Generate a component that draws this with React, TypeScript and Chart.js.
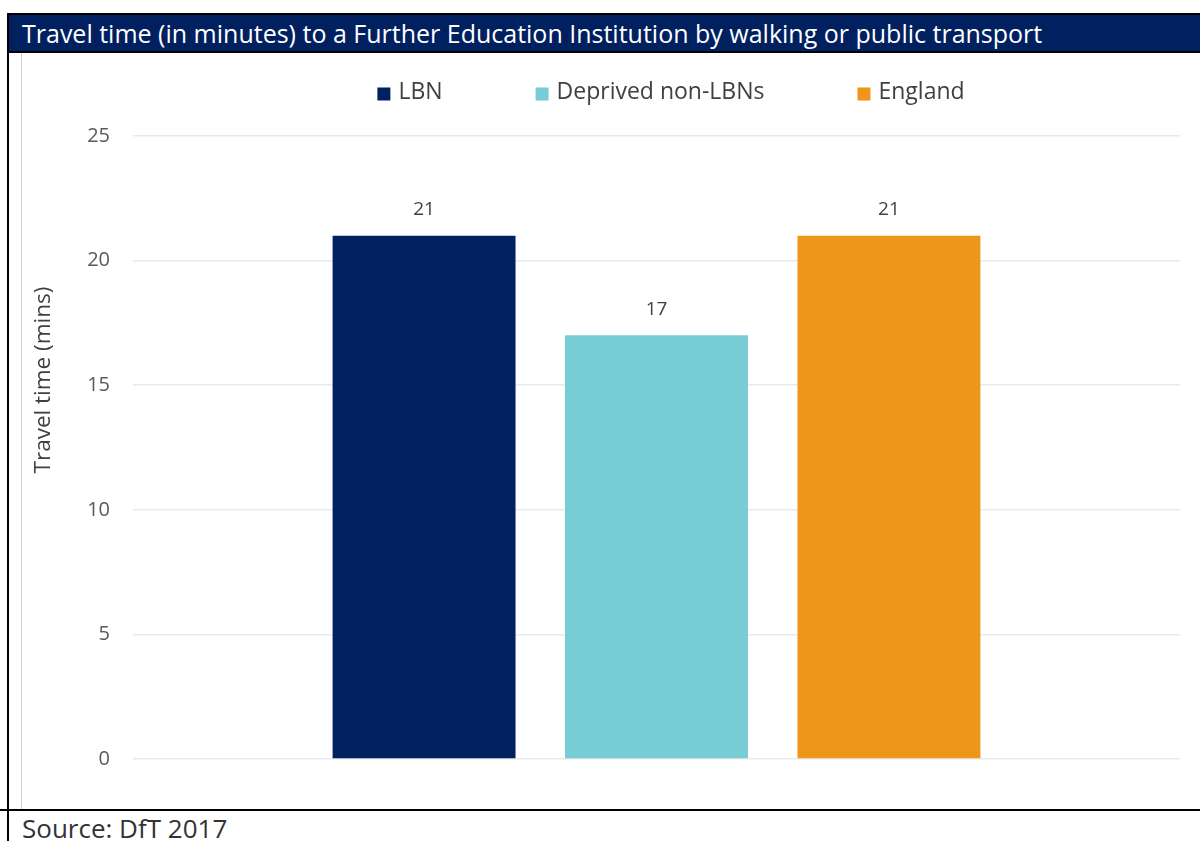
import React, { useEffect, useRef } from "react";
import { Chart, registerables } from "chart.js";

Chart.register(...registerables);

const categories = ["Travel time"];
const seriesLabels = ["LBN", "Deprived non-LBNs", "England"];
const lbnValues = [21];
const deprivedValues = [17];
const englandValues = [21];
const seriesColors = ["#002060", "#77CCD5", "#EE961A"];
const yTickValues = [0, 5, 10, 15, 20, 25];

const titleText =
  "Travel time (in minutes) to a Further Education Institution by walking or public transport";
const yAxisTitle = "Travel time (mins)";
const sourceText = "Source: DfT 2017";

const FONT = "'Open Sans', Lato, sans-serif";

const legendPlugin = {
  id: "customLegend",
  afterDraw(chart: any) {
    const ctx = chart.ctx;
    const ds = chart.data.datasets;
    ctx.save();
    ctx.font = `23px ${FONT}`;
    ctx.textBaseline = "middle";
    const box = 13;
    const gapText = 8;
    const gapItem = 93;
    const widths = ds.map((d: any) => box + gapText + ctx.measureText(d.label).width);
    const total = widths.reduce((a: number, b: number) => a + b, 0) + gapItem * (ds.length - 1);
    let x = 649 - total / 2;
    const y = 39;
    ds.forEach((d: any, i: number) => {
      ctx.fillStyle = d.backgroundColor;
      ctx.fillRect(x, y - box / 2 + 2, box, box);
      ctx.fillStyle = "#404040";
      ctx.textAlign = "left";
      ctx.fillText(d.label, x + box + gapText, y);
      x += widths[i] + gapItem;
    });
    // y axis title
    ctx.font = `22.5px ${FONT}`;
    ctx.translate(22, 327);
    ctx.rotate(-Math.PI / 2);
    ctx.textAlign = "center";
    ctx.fillStyle = "#404040";
    ctx.fillText(yAxisTitle, 0, 0);
    ctx.restore();
  },
};

const dataLabelPlugin = {
  id: "dataLabels",
  afterDatasetsDraw(chart: any) {
    const ctx = chart.ctx;
    ctx.save();
    ctx.font = `19px ${FONT}`;
    ctx.fillStyle = "#404040";
    ctx.textAlign = "center";
    ctx.textBaseline = "middle";
    chart.data.datasets.forEach((d: any, i: number) => {
      const meta = chart.getDatasetMeta(i);
      meta.data.forEach((bar: any, j: number) => {
        ctx.fillText(String(d.data[j]), bar.x, bar.y - 26);
      });
    });
    ctx.restore();
  },
};

function ChartCanvas() {
  const ref = useRef<HTMLCanvasElement | null>(null);
  useEffect(() => {
    if (!ref.current) return;
    const values = [lbnValues, deprivedValues, englandValues];
    const chart = new Chart(ref.current, {
      type: "bar",
      data: {
        labels: categories,
        datasets: seriesLabels.map((label, i) => ({
          label,
          data: values[i],
          backgroundColor: seriesColors[i],
          borderWidth: 0,
          categoryPercentage: 0.666,
          barPercentage: 0.787,
        })),
      },
      options: {
        responsive: false,
        animation: false,
        layout: { padding: { top: 83, bottom: 51, right: 20, left: 0 } },
        plugins: {
          legend: { display: false },
          tooltip: { enabled: false },
          title: { display: false },
        },
        scales: {
          x: { display: false },
          y: {
            min: 0,
            max: 25,
            afterFit: (scale: any) => {
              scale.width = 111;
            },
            afterBuildTicks: (scale: any) => {
              scale.ticks = yTickValues.map((v) => ({ value: v }));
            },
            border: { display: false },
            grid: { color: "#E9E9E9", lineWidth: 1.5, drawTicks: false },
            ticks: {
              padding: 23,
              color: "#595959",
              font: { family: FONT, size: 20 },
            },
          },
        },
      },
      plugins: [legendPlugin, dataLabelPlugin],
    } as any);
    return () => chart.destroy();
  }, []);
  return <canvas ref={ref} width={1178} height={757} style={{ display: "block" }} />;
}

export default function App() {
  useEffect(() => {
    document.body.style.margin = "0";
  }, []);
  return (
    <div style={{ position: "relative", width: 1200, height: 841, overflow: "hidden", background: "#fff", fontFamily: FONT }}>
      <div
        style={{
          position: "absolute",
          left: 7,
          top: 13,
          width: 1200,
          height: 36,
          background: "#002060",
          borderTop: "2px solid #000",
          borderBottom: "2px solid #000",
          color: "#fff",
          fontSize: 25,
          lineHeight: "36px",
          paddingLeft: 15,
          whiteSpace: "nowrap",
          boxSizing: "content-box",
        }}
      >
        {titleText}
      </div>
      <div style={{ position: "absolute", left: 7, top: 13, width: 2, height: 828, background: "#000" }} />
      <div style={{ position: "absolute", left: 21, top: 53, width: 1, height: 756, background: "#D0D0D0" }} />
      <div style={{ position: "absolute", left: 0, top: 809, width: 1200, height: 2, background: "#000" }} />
      <div style={{ position: "absolute", left: 22, top: 53 }}>
        <ChartCanvas />
      </div>
      <div
        style={{
          position: "absolute",
          left: 22,
          top: 810,
          fontSize: 26,
          lineHeight: "36px",
          color: "#333",
          whiteSpace: "nowrap",
        }}
      >
        {sourceText}
      </div>
    </div>
  );
}
